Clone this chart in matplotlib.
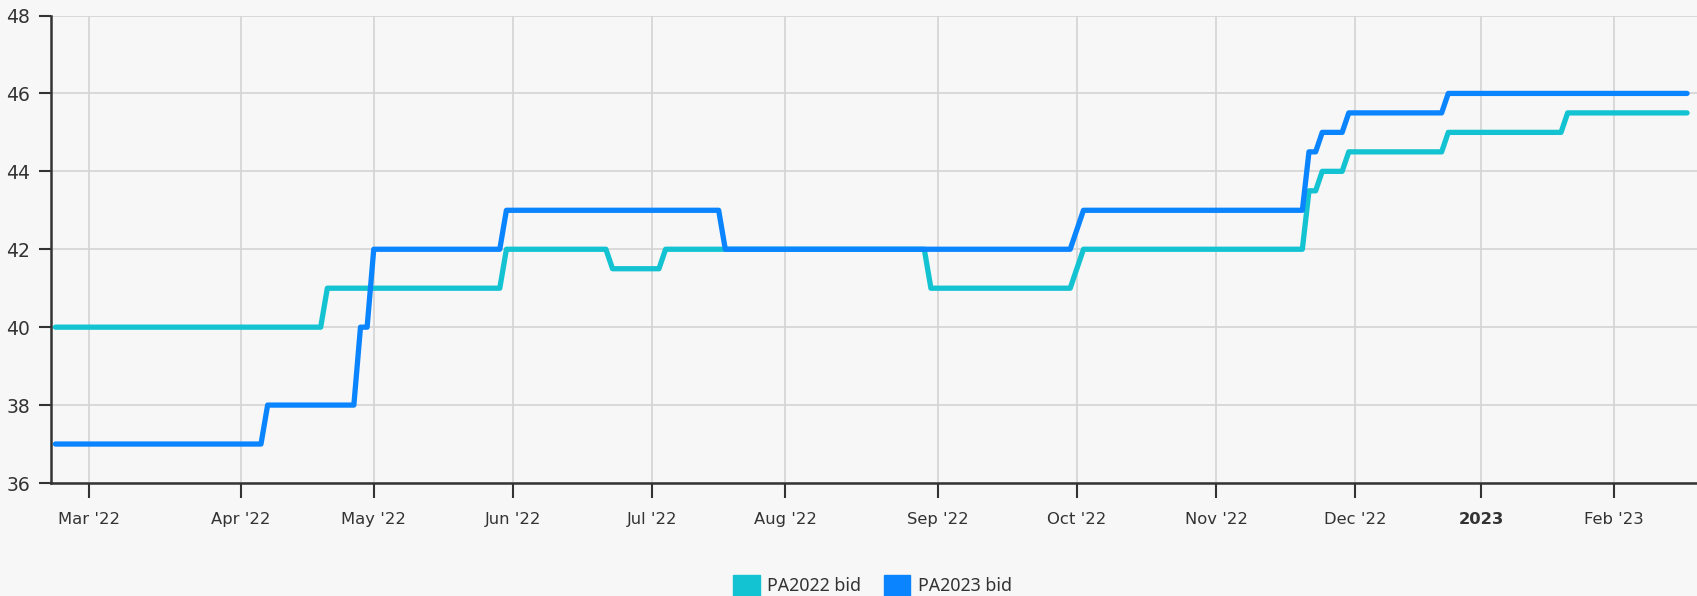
import numpy as np
import matplotlib.pyplot as plt
from matplotlib.patches import Patch

# trading calendar used by the ordinal x axis (days with no quotes)
holidays = ['2022-04-15', '2022-05-30', '2022-06-20', '2022-07-04', '2022-09-05',
            '2022-11-24', '2022-12-26', '2022-12-27', '2022-12-30',
            '2023-01-02', '2023-01-16']

# PA2022 bid: dates where the quote changes (line vertices)
dates_2022 = ['2022-02-22', '2022-04-20', '2022-04-21', '2022-05-27', '2022-05-31',
              '2022-06-22', '2022-06-23', '2022-07-05', '2022-07-06', '2022-08-30',
              '2022-08-31', '2022-09-30', '2022-10-04', '2022-11-18', '2022-11-21',
              '2022-11-22', '2022-11-23', '2022-11-29', '2022-11-30', '2022-12-20',
              '2022-12-21', '2023-01-20', '2023-01-23', '2023-02-16']
bid_2022 = [40, 40, 41, 41, 42,
            42, 41.5, 41.5, 42, 42,
            41, 41, 42, 42, 43.5,
            43.5, 44, 44, 44.5, 44.5,
            45, 45, 45.5, 45.5]

# PA2023 bid
dates_2023 = ['2022-02-22', '2022-04-06', '2022-04-07', '2022-04-27', '2022-04-28',
              '2022-04-29', '2022-05-02', '2022-05-27', '2022-05-31', '2022-07-18',
              '2022-07-19', '2022-09-30', '2022-10-04', '2022-11-18', '2022-11-21',
              '2022-11-22', '2022-11-23', '2022-11-29', '2022-11-30', '2022-12-20',
              '2022-12-21', '2023-02-16']
bid_2023 = [37, 37, 38, 38, 40,
            40, 42, 42, 43, 43,
            42, 42, 43, 43, 44.5,
            44.5, 45, 45, 45.5, 45.5,
            46, 46]

month_starts = ['2022-03-01', '2022-04-01', '2022-05-01', '2022-06-01', '2022-07-01',
                '2022-08-01', '2022-09-01', '2022-10-01', '2022-11-01', '2022-12-01',
                '2023-01-01', '2023-02-01']
month_labels = ["Mar '22", "Apr '22", "May '22", "Jun '22", "Jul '22", "Aug '22",
                "Sep '22", "Oct '22", "Nov '22", "Dec '22", "2023", "Feb '23"]

start = dates_2022[0]


def pos(d):
    return np.busday_count(start, d, holidays=holidays)


tick_days = np.busday_offset(month_starts, 0, roll='forward', holidays=holidays)

bg = '#f7f7f7'
teal = '#13c3d1'
blue = '#0a84ff'
dark = '#333333'

fig = plt.figure(figsize=(16.97, 5.96), dpi=100, facecolor=bg)
ax = fig.add_axes([51 / 1697, 113 / 596, 1 - 51 / 1697, 467.5 / 596])
ax.set_facecolor(bg)

ax.plot(pos(dates_2022), bid_2022, color=teal, lw=3.8,
        solid_joinstyle='round', solid_capstyle='round')
ax.plot(pos(dates_2023), bid_2023, color=blue, lw=3.8,
        solid_joinstyle='round', solid_capstyle='round')

ax.set_xlim(-0.66, 247.5)
ax.set_ylim(36, 48)
ax.set_yticks(np.arange(36, 49, 2))
ax.set_xticks(pos(tick_days), month_labels)
ax.get_xticklabels()[10].set_fontweight('bold')

ax.grid(color='#d3d3d3', lw=1.2)
ax.set_axisbelow(True)
for s in ['top', 'right']:
    ax.spines[s].set_visible(False)
for s in ['left', 'bottom']:
    ax.spines[s].set_color(dark)
    ax.spines[s].set_linewidth(1.8)
ax.tick_params(axis='x', length=11, width=1.5, color=dark, pad=10,
               labelsize=11.8, labelcolor=dark)
ax.tick_params(axis='y', length=9, width=1.5, color=dark, pad=6,
               labelsize=13.5, labelcolor=dark)

handles = [Patch(color=teal), Patch(color=blue)]
fig.legend(handles, ['PA2022 bid', 'PA2023 bid'], loc='center',
           bbox_to_anchor=(0.514, 0.018), ncol=2, frameon=False,
           prop={'family': 'Noto Sans', 'size': 12.8},
           handlelength=1.5, handleheight=1.4, handletextpad=0.4,
           columnspacing=1.3, labelcolor=dark)

fig.savefig('out.png', dpi=100, facecolor=bg)
